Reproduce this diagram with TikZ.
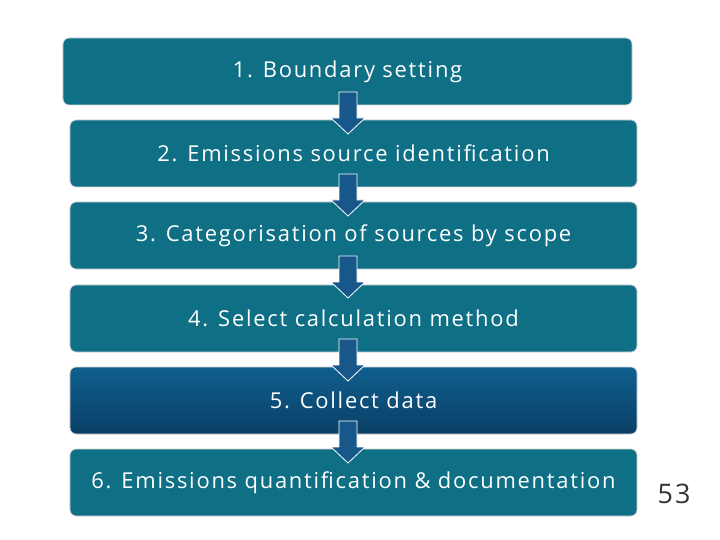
\documentclass[tikz,border=0pt]{standalone}
\usepackage{fontspec}
\setmainfont{Open Sans}[LetterSpace=8]
\definecolor{teal1}{HTML}{0E6F85}
\definecolor{blue5a}{HTML}{0F5F8E}
\definecolor{blue5b}{HTML}{0A3F66}
\definecolor{arr}{HTML}{17578A}
\begin{document}
\begin{tikzpicture}[x=1bp,y=-1bp,
  stepbox/.style={draw=white!85!black,line width=0.8bp,rounded corners=6bp,fill=teal1,text=white,font=\fontsize{22}{26}\selectfont,minimum height=67bp,inner sep=0pt},
  dnarrow/.style={fill=arr,draw=white,line width=0.8bp}]
\useasboundingbox (0,0) rectangle (720,540);
\fill[white] (0,0) rectangle (720,540);
\node[stepbox,minimum width=569bp] (b1) at (347.5,71.5) {1. Boundary setting};
\node[stepbox,minimum width=567bp] (b2) at (353.5,153.5) {2. Emissions source identification};
\node[stepbox,minimum width=567bp] (b3) at (353.5,235.5) {3. Categorisation of sources by scope};
\node[stepbox,minimum width=567bp] (b4) at (353.5,318.5) {4. Select calculation method};
\node[stepbox,minimum width=567bp,fill=none,top color=blue5a,bottom color=blue5b] (b5) at (353.5,400.5) {5. Collect data};
\node[stepbox,minimum width=567bp] (b6) at (353.5,482.5) {6. Emissions quantification \& documentation};
\node[font=\fontsize{27}{30}\selectfont,text=black!80] (pg) at (674,494) {53};
\foreach \y in {92,174,256,339,421}{
  \draw[dnarrow] (339,\y) -- (357,\y) -- (357,\y+26) -- (365,\y+26) -- (348,\y+42) -- (331,\y+26) -- (339,\y+26) -- cycle;
}
\end{tikzpicture}
\end{document}
